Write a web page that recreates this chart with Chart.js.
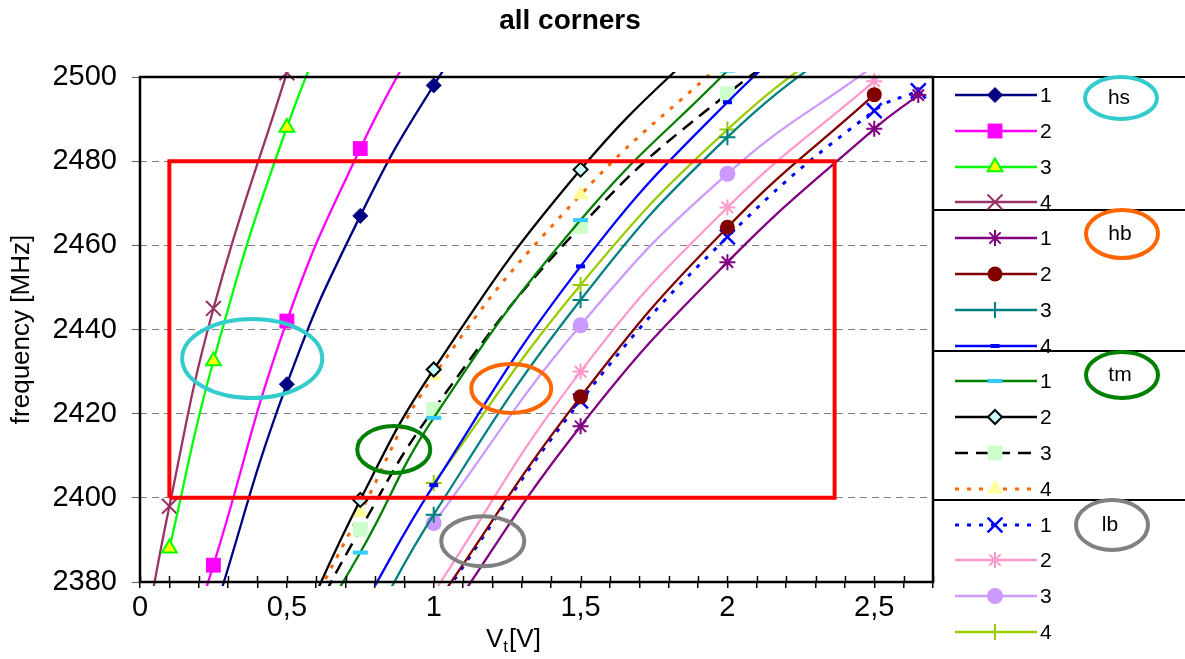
<!DOCTYPE html>
<html>
<head>
<meta charset="utf-8">
<script src="https://cdn.jsdelivr.net/npm/chart.js@4.4.1/dist/chart.umd.min.js"></script>
<style>
  html, body { margin: 0; padding: 0; background: #fff; }
  canvas { display: block; }
</style>
</head>
<body>
<canvas id="myChart" width="1185" height="659"></canvas>
<script>
// ---- data ----
const hs1X = [0.25, 0.5, 0.75, 1, 1.5];
const hs1Y = [2372, 2427, 2467, 2498, 2550];
const hs2X = [0.1, 0.25, 0.5, 0.75, 1];
const hs2Y = [2352, 2384, 2442, 2483, 2516];
const hs3X = [0.1, 0.25, 0.5, 0.75];
const hs3Y = [2388, 2432.5, 2488, 2530];
const hs4X = [0, 0.1, 0.25, 0.5];
const hs4Y = [2361, 2398, 2445, 2501];

const hb1X = [1, 1.5, 2, 2.5, 2.65];
const hb1Y = [2367, 2417, 2456, 2487.7, 2495.7];
const hb2X = [1, 1.5, 2, 2.5];
const hb2Y = [2374, 2424, 2464.3, 2495.8];
const hb3X = [0.75, 1, 1.5, 2, 2.5];
const hb3Y = [2365, 2396, 2447, 2485.7, 2513.7];
const hb4X = [0.75, 1, 1.5, 2, 2.5];
const hb4Y = [2373, 2403, 2455, 2494, 2525];

const tm1X = [0.5, 0.75, 1, 1.5, 2];
const tm1Y = [2358, 2387, 2419, 2466, 2501.5];
const tm2X = [0.5, 0.75, 1, 1.5, 2];
const tm2Y = [2362, 2399.5, 2430.5, 2478, 2513.5];
const tm3X = [0.5, 0.75, 1, 1.5, 2, 2.5];
const tm3Y = [2360, 2392.5, 2421, 2464.5, 2496, 2520];
const tm4X = [0.5, 0.75, 1, 1.5, 2];
const tm4Y = [2363, 2396.5, 2429, 2472, 2504.5];

const lb1X = [1, 1.5, 2, 2.5, 2.65];
const lb1Y = [2373.5, 2423, 2462, 2492, 2496.7];
const lb2X = [1, 1.5, 2, 2.5];
const lb2Y = [2377.5, 2430, 2469, 2499];
const lb3X = [1, 1.5, 2, 2.5];
const lb3Y = [2394, 2441, 2477, 2502.7];
const lb4X = [1, 1.5, 2, 2.5];
const lb4Y = [2403.5, 2450.6, 2487.5, 2515];

// spec window (red box)
const specBoxX = [0.1, 0.1, 2.365, 2.365, 0.1];
const specBoxY = [2400, 2480, 2480, 2400, 2400];

// rings drawn on the plot, in data units
const ringCx = [0.382, 0.864, 1.264, 1.167];
const ringCy = [2433.1, 2411.5, 2426.0, 2389.7];
const ringRx = [0.2385, 0.1244, 0.1363, 0.1414];
const ringRy = [9.39, 5.58, 5.82, 5.94];

const xTickLabels = { 0: '0', 5: '0,5', 10: '1', 15: '1,5', 20: '2', 25: '2,5' };
const legendGroups = ['hs', 'hb', 'tm', 'lb'];
const legendNumbers = ['1', '2', '3', '4'];

// ---- styles ----
const FONT = "'Liberation Sans', Arial, sans-serif";
const ringColors = ['#33CCCC', '#008000', '#FF6600', '#808080'];
const groupColors = ['#33CCCC', '#FF6600', '#008000', '#808080'];

const styles = {
  hs1: { borderColor: '#000080', pointStyle: 'rectRot', pointRadius: 7.5, pointBackgroundColor: '#000080', pointBorderColor: '#000080', pointBorderWidth: 1 },
  hs2: { borderColor: '#FF00FF', pointStyle: 'rect', pointRadius: 10.5, pointBackgroundColor: '#FF00FF', pointBorderColor: '#FF00FF', pointBorderWidth: 0 },
  hs3: { borderColor: '#00FF00', pointStyle: 'triangle', pointRadius: 8.5, pointBackgroundColor: '#FFFF00', pointBorderColor: '#00FF00', pointBorderWidth: 2 },
  hs4: { borderColor: '#993366', pointStyle: 'crossRot', pointRadius: 10.5, pointBorderColor: '#993366', pointBorderWidth: 2 },
  hb1: { borderColor: '#800080', pointStyle: 'star', pointRadius: 8, pointBorderColor: '#800080', pointBorderWidth: 2 },
  hb2: { borderColor: '#800000', pointStyle: 'circle', pointRadius: 7.5, pointBackgroundColor: '#800000', pointBorderColor: '#800000', pointBorderWidth: 0 },
  hb3: { borderColor: '#008080', pointStyle: 'cross', pointRadius: 8, pointBorderColor: '#008080', pointBorderWidth: 2 },
  hb4: { borderColor: '#0000FF', pointStyle: 'line', pointRadius: 4.5, pointBorderColor: '#0000FF', pointBorderWidth: 4 },
  tm1: { borderColor: '#008000', pointStyle: 'line', pointRadius: 7.5, pointBorderColor: '#33CCFF', pointBorderWidth: 4 },
  tm2: { borderColor: '#000000', pointStyle: 'rectRot', pointRadius: 7, pointBackgroundColor: '#CCFFFF', pointBorderColor: '#000000', pointBorderWidth: 2 },
  tm3: { borderColor: '#000000', borderDash: [13, 8], borderWidth: 2.5, pointStyle: 'rect', pointRadius: 10.5, pointBackgroundColor: '#CCFFCC', pointBorderColor: '#CCFFCC', pointBorderWidth: 0 },
  tm4: { borderColor: '#FF6600', borderDash: [4, 8], borderWidth: 3, pointStyle: 'triangle', pointRadius: 9, pointBackgroundColor: '#FFFF99', pointBorderColor: '#FFFF99', pointBorderWidth: 0 },
  lb1: { borderColor: '#0000FF', borderDash: [4, 8], borderWidth: 3, pointStyle: 'crossRot', pointRadius: 10.5, pointBorderColor: '#0000FF', pointBorderWidth: 2.5 },
  lb2: { borderColor: '#FF99CC', pointStyle: 'star', pointRadius: 8, pointBorderColor: '#FF99CC', pointBorderWidth: 2 },
  lb3: { borderColor: '#CC99FF', pointStyle: 'circle', pointRadius: 8, pointBackgroundColor: '#CC99FF', pointBorderColor: '#CC99FF', pointBorderWidth: 0 },
  lb4: { borderColor: '#99CC00', pointStyle: 'cross', pointRadius: 8, pointBorderColor: '#99CC00', pointBorderWidth: 2 },
};

const seriesData = {
  hs1: [hs1X, hs1Y], hs2: [hs2X, hs2Y], hs3: [hs3X, hs3Y], hs4: [hs4X, hs4Y],
  hb1: [hb1X, hb1Y], hb2: [hb2X, hb2Y], hb3: [hb3X, hb3Y], hb4: [hb4X, hb4Y],
  tm1: [tm1X, tm1Y], tm2: [tm2X, tm2Y], tm3: [tm3X, tm3Y], tm4: [tm4X, tm4Y],
  lb1: [lb1X, lb1Y], lb2: [lb2X, lb2Y], lb3: [lb3X, lb3Y], lb4: [lb4X, lb4Y],
};

const toPoints = (xs, ys) => xs.map((x, i) => ({ x: x, y: ys[i] }));

const datasets = [];
legendGroups.forEach((g, gi) => {
  legendNumbers.forEach((n, ni) => {
    const key = g + n;
    const [xs, ys] = seriesData[key];
    datasets.push(Object.assign({
      label: key,
      data: toPoints(xs, ys),
      showLine: true,
      fill: false,
      tension: 0.45,
      borderWidth: 2.3,
      order: 0,
      legendRow: gi * 4 + ni,
      clip: { left: 0, right: 0, top: 5, bottom: 4 },
    }, styles[key]));
  });
});

datasets.push({
  label: 'spec',
  data: toPoints(specBoxX, specBoxY),
  showLine: true,
  fill: false,
  tension: 0,
  borderColor: '#FF0000',
  borderWidth: 4,
  borderJoinStyle: 'miter',
  pointRadius: 0,
  order: -1,
});

// ---- drawing helpers ----
const marker = (ctx, ds, x, y) => {
  ctx.save();
  ctx.fillStyle = ds.pointBackgroundColor || ds.borderColor;
  ctx.strokeStyle = ds.pointBorderColor || ds.borderColor;
  ctx.lineWidth = ds.pointBorderWidth;
  if (Chart.helpers && Chart.helpers.drawPoint) {
    Chart.helpers.drawPoint(ctx, {
      pointStyle: ds.pointStyle, rotation: 0, radius: ds.pointRadius, borderWidth: ds.pointBorderWidth,
    }, x, y);
  } else {
    ctx.beginPath();
    ctx.arc(x, y, ds.pointRadius, 0, Math.PI * 2);
    ctx.fill();
  }
  ctx.restore();
};

const decor = {
  id: 'decor',
  afterDatasetsDraw(chart) {
    const ctx = chart.ctx;
    const xs = chart.scales.x, ys = chart.scales.y;
    ctx.save();
    ringCx.forEach((cx, i) => {
      const px = xs.getPixelForValue(cx);
      const py = ys.getPixelForValue(ringCy[i]);
      const rx = Math.abs(xs.getPixelForValue(cx + ringRx[i]) - px);
      const ry = Math.abs(ys.getPixelForValue(ringCy[i] + ringRy[i]) - py);
      ctx.beginPath();
      ctx.ellipse(px, py, rx, ry, 0, 0, Math.PI * 2);
      ctx.strokeStyle = ringColors[i];
      ctx.lineWidth = 4;
      ctx.stroke();
    });
    ctx.restore();
  },
  afterDraw(chart) {
    const ctx = chart.ctx;
    const a = chart.chartArea;
    ctx.save();

    // inner tick halves on the x axis
    const xs = chart.scales.x;
    ctx.strokeStyle = '#000';
    ctx.lineWidth = 1.5;
    xs.ticks.forEach(t => {
      const px = Math.round(xs.getPixelForValue(t.value)) + 0.5;
      ctx.beginPath();
      ctx.moveTo(px, a.bottom - 6);
      ctx.lineTo(px, a.bottom);
      ctx.stroke();
    });

    // plot frame
    ctx.strokeStyle = '#000';
    ctx.lineWidth = 2.5;
    ctx.strokeRect(a.left, a.top, a.right - a.left, a.bottom - a.top);

    // title
    ctx.fillStyle = '#000';
    ctx.font = 'bold 28px ' + FONT;
    ctx.textAlign = 'center';
    ctx.textBaseline = 'middle';
    ctx.fillText('all corners', 570, 21);

    // y axis title
    ctx.save();
    ctx.translate(22, (a.top + a.bottom) / 2);
    ctx.rotate(-Math.PI / 2);
    ctx.font = '26px ' + FONT;
    ctx.fillText('frequency [MHz]', 0, 0);
    ctx.restore();

    // x axis title with subscript
    ctx.textAlign = 'left';
    ctx.textBaseline = 'alphabetic';
    let tx = 486;
    const base = 647;
    ctx.font = '26px ' + FONT;
    ctx.fillText('V', tx, base);
    tx += ctx.measureText('V').width;
    ctx.font = '17px ' + FONT;
    ctx.fillText('t', tx, base + 5);
    tx += ctx.measureText('t').width + 1;
    ctx.font = '26px ' + FONT;
    ctx.fillText('[V]', tx, base);

    // legend panel
    const left = a.right;
    const sepOffsets = [0, 133, 274, 423];
    ctx.strokeStyle = '#000';
    ctx.lineWidth = 2;
    sepOffsets.forEach(o => {
      ctx.beginPath();
      ctx.moveTo(left, a.top + o);
      ctx.lineTo(chart.width, a.top + o);
      ctx.stroke();
    });

    chart.data.datasets.forEach(ds => {
      if (ds.legendRow === undefined) return;
      const y = Math.round(a.top + 18 + ds.legendRow * 35.8);
      ctx.save();
      ctx.strokeStyle = ds.borderColor;
      ctx.lineWidth = ds.borderWidth;
      ctx.setLineDash(ds.borderDash || []);
      ctx.beginPath();
      ctx.moveTo(left + 22, y);
      ctx.lineTo(left + 104, y);
      ctx.stroke();
      ctx.restore();
      marker(ctx, ds, left + 62, y);
      ctx.fillStyle = '#000';
      ctx.font = '21px ' + FONT;
      ctx.textAlign = 'left';
      ctx.textBaseline = 'middle';
      ctx.fillText(legendNumbers[ds.legendRow % 4], left + 107, y + 1);
    });

    const tagCx = [188, 189, 189, 179];
    const tagCy = [21, 157, 298, 448];
    const tagRy = [21, 24, 23, 25];
    legendGroups.forEach((g, i) => {
      const cx = left + tagCx[i], cy = a.top + tagCy[i];
      ctx.beginPath();
      ctx.ellipse(cx, cy, 36, tagRy[i], 0, 0, Math.PI * 2);
      ctx.strokeStyle = groupColors[i];
      ctx.lineWidth = 4;
      ctx.stroke();
      ctx.fillStyle = '#000';
      ctx.font = '21px ' + FONT;
      ctx.textAlign = 'center';
      ctx.textBaseline = 'middle';
      ctx.fillText(g, cx - 2, cy);
    });

    ctx.restore();
  }
};

const ctx = document.getElementById('myChart');

new Chart(ctx, {
  type: 'scatter',
  data: { datasets: datasets },
  options: {
    responsive: false,
    animation: false,
    events: [],
    layout: { padding: { left: 0, top: 77, right: 252, bottom: 0 } },
    elements: { line: { capBezierPoints: false } },
    plugins: {
      legend: { display: false },
      title: { display: false },
      tooltip: { enabled: false },
    },
    scales: {
      x: {
        type: 'linear',
        min: 0,
        max: 2.7,
        afterFit: s => { s.height = 77; },
        border: { display: false },
        grid: { drawOnChartArea: false, tickLength: 6, tickColor: '#000', lineWidth: 1.5 },
        ticks: {
          stepSize: 0.1,
          autoSkip: false,
          maxRotation: 0,
          padding: 3,
          color: '#000',
          font: { family: FONT, size: 29 },
          callback: v => {
            const k = Math.round(v * 10);
            return xTickLabels[k] !== undefined ? xTickLabels[k] : '';
          },
        },
      },
      y: {
        min: 2380,
        max: 2500,
        afterFit: s => { s.width = 140; },
        border: { display: false, dash: [7, 5] },
        grid: { color: '#808080', lineWidth: 1, tickLength: 8, tickColor: '#606060' },
        ticks: {
          stepSize: 20,
          padding: 15,
          color: '#000',
          font: { family: FONT, size: 29 },
          callback: v => String(v),
        },
      },
    },
  },
  plugins: [decor],
});
</script>
</body>
</html>
